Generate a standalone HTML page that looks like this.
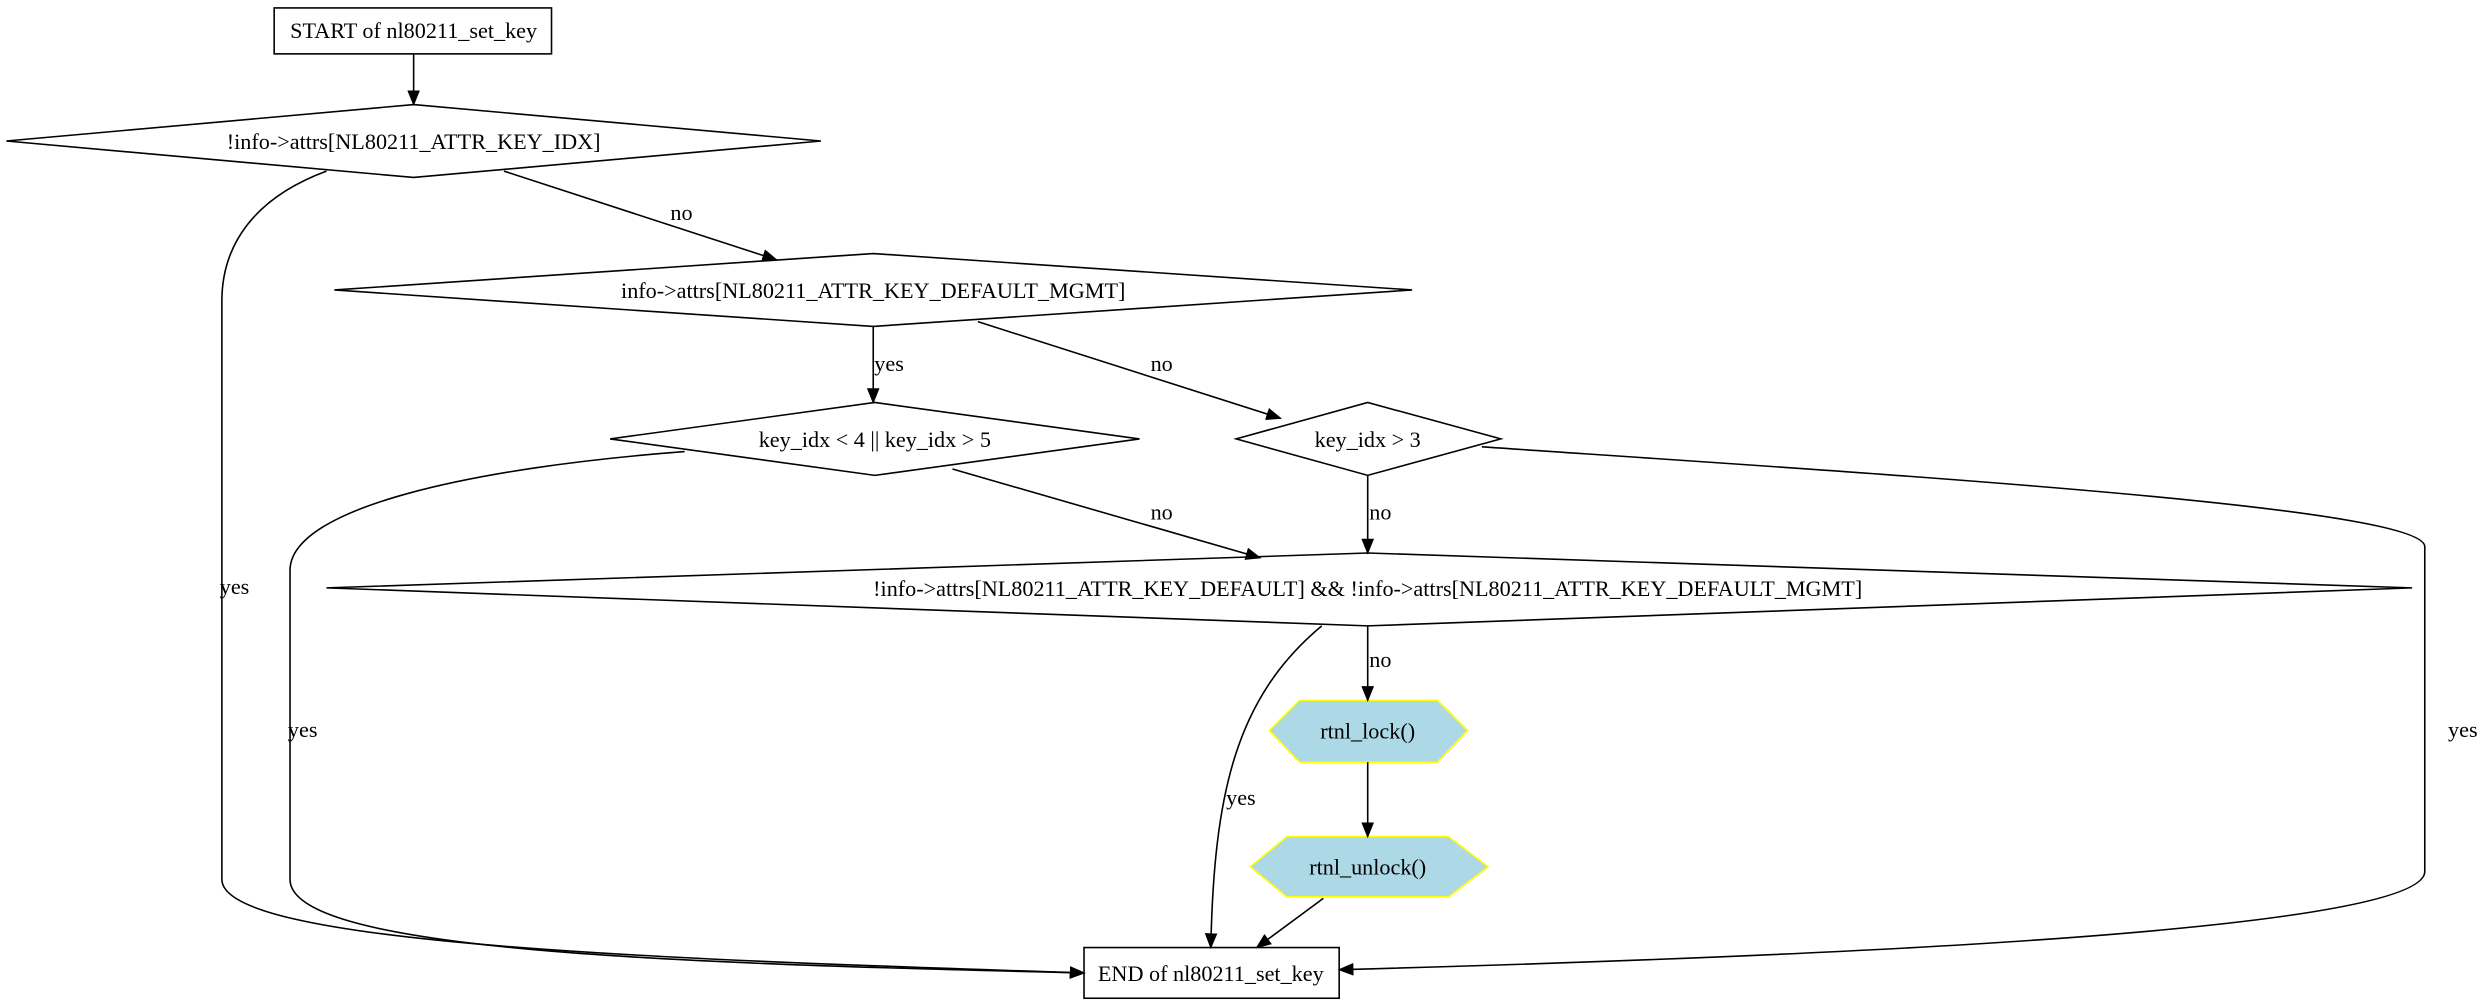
<!DOCTYPE html>
<html><head><meta charset="utf-8"><style>
html,body{margin:0;padding:0;background:#fff;}
svg{display:block}
text{font-family:"Liberation Serif",serif;font-size:14px;fill:#000;}
</style></head><body>
<svg width="2485" height="1003" viewBox="0 0 1568 633" preserveAspectRatio="none" xmlns="http://www.w3.org/2000/svg">
<defs>
<marker id="a" markerWidth="10" markerHeight="8" refX="9" refY="4" orient="auto" markerUnits="userSpaceOnUse">
<path d="M0,0 L10,4 L0,8 z" fill="#000"/>
</marker>
</defs>
<g fill="none" stroke="#000" stroke-width="1">
<rect x="173" y="5" width="175" height="29"/>
<polygon points="4,89 261,66 518,89 261,112"/>
<polygon points="211,183 551,160 891,183 551,206"/>
<polygon points="385,277 552,254 719,277 552,300"/>
<polygon points="780,277 863,254 947,277 863,300"/>
<polygon points="206,371 863,349 1522,371 863,395"/>
<rect x="684" y="598" width="161" height="32"/>
</g>
<polygon points="801,461 820,442 907,442 926,461 907,481 820,481" fill="#add8e6" stroke="#ffff00"/>
<polygon points="789,547 812,528 914,528 939,547 914,566 812,566" fill="#add8e6" stroke="#ffff00"/>
<g fill="none" stroke="#000" stroke-width="1" marker-end="url(#a)">
<path d="M261,34 L261,66"/>
<path d="M318,108 L490,164"/>
<path d="M206,108 C160,125 140,155 140,190 L140,555 C140,595 400,605 684,614"/>
<path d="M551,206 L551,254"/>
<path d="M617,203 L808,264"/>
<path d="M432,285 C300,295 183,320 183,360 L183,555 C183,600 420,608 684,614"/>
<path d="M601,296 L795,352"/>
<path d="M863,300 L863,349"/>
<path d="M935,282 C1200,300 1530,320 1530,345 L1530,550 C1530,590 1100,605 845,612"/>
<path d="M834,395 C780,440 766,500 764,598"/>
<path d="M863,395 L863,442"/>
<path d="M863,481 L863,528"/>
<path d="M835,567 L793,598"/>
</g>
<g text-anchor="middle">
<text x="261" y="24">START of nl80211_set_key</text>
<text x="261" y="94">!info-&gt;attrs[NL80211_ATTR_KEY_IDX]</text>
<text x="551" y="188">info-&gt;attrs[NL80211_ATTR_KEY_DEFAULT_MGMT]</text>
<text x="552" y="282">key_idx &lt; 4 || key_idx &gt; 5</text>
<text x="863" y="282">key_idx &gt; 3</text>
<text x="863" y="376">!info-&gt;attrs[NL80211_ATTR_KEY_DEFAULT] &amp;&amp; !info-&gt;attrs[NL80211_ATTR_KEY_DEFAULT_MGMT]</text>
<text x="863" y="466">rtnl_lock()</text>
<text x="863" y="552">rtnl_unlock()</text>
<text x="764" y="619">END of nl80211_set_key</text>
<text x="430" y="139">no</text>
<text x="148" y="375">yes</text>
<text x="561" y="234">yes</text>
<text x="733" y="234">no</text>
<text x="191" y="465">yes</text>
<text x="733" y="328">no</text>
<text x="871" y="328">no</text>
<text x="1554" y="465">yes</text>
<text x="783" y="508">yes</text>
<text x="871" y="421">no</text>
</g>
</svg>
</body></html>
